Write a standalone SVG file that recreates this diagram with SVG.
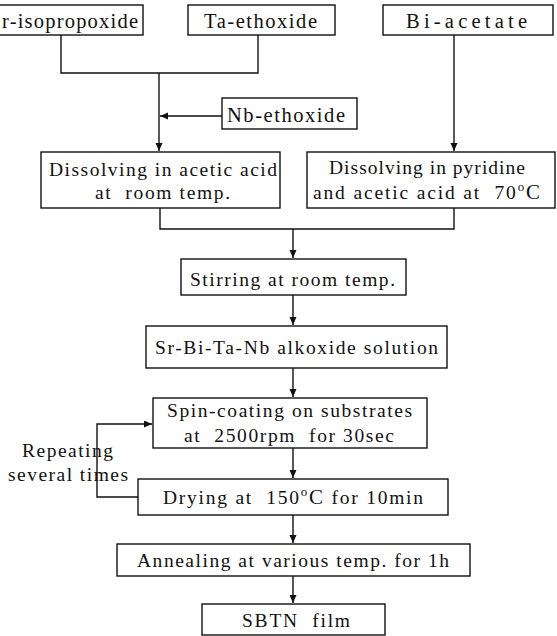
<svg xmlns="http://www.w3.org/2000/svg" width="557" height="636" viewBox="0 0 557 636">
<defs>
<style>
.box{fill:#fff;stroke:#111;stroke-width:1.4}
.t{font-family:"Liberation Serif","Times New Roman",serif;font-size:19.5px;fill:#111;white-space:pre}
.top{font-size:20.5px}
.c{fill:none;stroke:#111;stroke-width:1.4}
</style>
<marker id="ah" markerUnits="userSpaceOnUse" markerWidth="9" markerHeight="8" refX="8" refY="3.5" orient="auto">
<path d="M0,0 L8,3.5 L0,7 z" fill="#111"/>
</marker>
</defs>
<rect width="557" height="636" fill="#fff"/>
<g id="connectors">
<path class="c" d="M61,35 V73 H258 V35"/>
<path class="c" d="M159,73 V151" marker-end="url(#ah)"/>
<path class="c" d="M222,116 H160" marker-end="url(#ah)"/>
<path class="c" d="M454,35 V151" marker-end="url(#ah)"/>
<path class="c" d="M160,208 V229 H454 V208"/>
<path class="c" d="M293,229 V258" marker-end="url(#ah)"/>
<path class="c" d="M293,295 V325" marker-end="url(#ah)"/>
<path class="c" d="M293,368 V397" marker-end="url(#ah)"/>
<path class="c" d="M293,448 V478" marker-end="url(#ah)"/>
<path class="c" d="M293,515 V543" marker-end="url(#ah)"/>
<path class="c" d="M293,576 V603" marker-end="url(#ah)"/>
<path class="c" d="M138,497 H97 V424 H152" marker-end="url(#ah)"/>
</g>
<g id="sr-isopropoxide">
<rect class="box" x="-5" y="5" width="148" height="30"/>
<text class="t top" x="2" y="28" textLength="136" lengthAdjust="spacing">r-isopropoxide</text>
</g>
<g id="ta-ethoxide">
<rect class="box" x="188" y="5" width="147" height="30"/>
<text class="t top" x="204" y="28" textLength="113" lengthAdjust="spacing">Ta-ethoxide</text>
</g>
<g id="bi-acetate">
<rect class="box" x="383" y="5" width="170" height="30"/>
<text class="t top" x="406" y="28" textLength="121" lengthAdjust="spacing">Bi-acetate</text>
</g>
<g id="nb-ethoxide">
<rect class="box" x="222" y="98" width="135" height="31"/>
<text class="t top" x="227" y="122" textLength="118" lengthAdjust="spacing">Nb-ethoxide</text>
</g>
<g id="dissolve-acetic">
<rect class="box" x="41" y="152" width="239" height="56"/>
<text class="t" x="49" y="176" textLength="228" lengthAdjust="spacing">Dissolving in acetic acid</text>
<text class="t" x="95" y="199" textLength="135" lengthAdjust="spacing">at  room temp.</text>
</g>
<g id="dissolve-pyridine">
<rect class="box" x="307" y="152" width="248" height="56"/>
<text class="t" x="329" y="174" textLength="196" lengthAdjust="spacing">Dissolving in pyridine</text>
<text class="t" x="313" y="199" textLength="227" lengthAdjust="spacing">and acetic acid at  70<tspan font-size="13" dy="-8">o</tspan><tspan dy="8" font-size="21">C</tspan></text>
</g>
<g id="stirring">
<rect class="box" x="181" y="259" width="225" height="36"/>
<text class="t" x="190" y="286" textLength="205" lengthAdjust="spacing">Stirring at room temp.</text>
</g>
<g id="solution">
<rect class="box" x="146" y="326" width="301" height="42"/>
<text class="t" x="155" y="354" textLength="283" lengthAdjust="spacing">Sr-Bi-Ta-Nb alkoxide solution</text>
</g>
<g id="spin-coating">
<rect class="box" x="153" y="398" width="274" height="50"/>
<text class="t" x="167" y="417" textLength="245" lengthAdjust="spacing">Spin-coating on substrates</text>
<text class="t" x="184" y="442" textLength="210" lengthAdjust="spacing">at  2500rpm  for 30sec</text>
</g>
<g id="drying">
<rect class="box" x="138" y="479" width="310" height="36"/>
<text class="t" x="163" y="504" textLength="260" lengthAdjust="spacing">Drying at  150<tspan font-size="13" dy="-8">o</tspan><tspan dy="8" font-size="21">C</tspan> for 10min</text>
</g>
<g id="annealing">
<rect class="box" x="117" y="544" width="353" height="32"/>
<text class="t" x="137" y="567" textLength="312" lengthAdjust="spacing">Annealing at various temp. for 1h</text>
</g>
<g id="sbtn">
<rect class="box" x="202" y="604" width="183" height="31"/>
<text class="t" x="242" y="627" textLength="108" lengthAdjust="spacing">SBTN  film</text>
</g>
<g id="repeat-label">
<text class="t" x="22" y="457" textLength="91" lengthAdjust="spacing">Repeating</text>
<text class="t" x="8" y="481" textLength="120" lengthAdjust="spacing">several times</text>
</g>
</svg>
